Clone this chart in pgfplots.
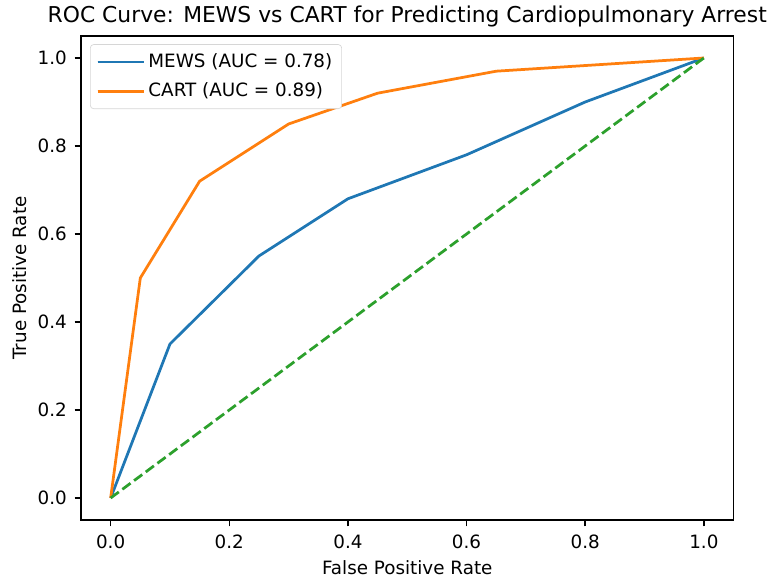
\documentclass[border=0pt]{standalone}
\usepackage{fontspec}
\setmainfont{DejaVu Sans}
\usepackage{pgfplots}
\pgfplotsset{compat=1.18}
\definecolor{tabblue}{HTML}{1F77B4}
\definecolor{taborange}{HTML}{FF7F0E}
\definecolor{tabgreen}{HTML}{2CA02C}

\begin{document}
\begin{tikzpicture}
\begin{axis}[
  scale only axis, width=391.5pt, height=290.4pt,
  xmin=-0.05, xmax=1.05, ymin=-0.05, ymax=1.05,
  xtick={0,0.2,0.4,0.6,0.8,1}, ytick={0,0.2,0.4,0.6,0.8,1},
  xtick pos=lower, ytick pos=left,
  tick align=outside, major tick length=3.8pt,
  tick style={black, line width=0.88pt},
  axis line style={line width=0.88pt},
  /pgf/number format/.cd, fixed, fixed zerofill, precision=1, assume math mode=true,
  /pgfplots/.cd,
  tick label style={font=\fontsize{11}{13}\selectfont},
  xticklabel style={yshift=-1.5pt},
  yticklabel style={xshift=-1.2pt},
  label style={font=\fontsize{11}{13}\selectfont},
  xlabel={False Positive Rate}, ylabel={True Positive Rate},
  xlabel style={at={(axis description cs:0.5,0)}, anchor=base, yshift=-33pt},
  ylabel style={at={(axis description cs:0,0.5)}, anchor=base, yshift=32.4pt},
  title={ROC Curve: MEWS vs CART for Predicting Cardiopulmonary Arrest},
  title style={font=\fontsize{13.1}{15}\selectfont, at={(axis description cs:0.5,1)}, anchor=base, yshift=1.8pt},
  legend style={at={(axis description cs:0.0138,0.983)}, anchor=north west, draw=black!16,
    rounded corners=2pt, font=\fontsize{11}{13}\selectfont, row sep=3.6pt,
    inner xsep=3.6pt, inner ysep=3.6pt},
  legend cell align=left,
  legend image code/.code={\draw[#1] (0pt,0pt) -- (23.4pt,0pt); \path (0pt,0pt) -- (27.6pt,0pt);},
]
\addplot[tabblue, line width=1.65pt] coordinates {
  (0,0) (0.1,0.35) (0.25,0.55) (0.4,0.68) (0.6,0.78) (0.8,0.9) (1,1)
};
\addlegendentry{MEWS (AUC = 0.78)}
\addplot[taborange, line width=1.65pt] coordinates {
  (0,0) (0.05,0.5) (0.15,0.72) (0.3,0.85) (0.45,0.92) (0.65,0.97) (1,1)
};
\addlegendentry{CART (AUC = 0.89)}
\addplot[tabgreen, line width=1.65pt, dash pattern=on 6.1pt off 2.64pt] coordinates {
  (0,0) (1,1)
};
\end{axis}
\pgfresetboundingbox
\path (-48.6pt,-34.8pt) rectangle (414pt,312pt);
\end{tikzpicture}
\end{document}
